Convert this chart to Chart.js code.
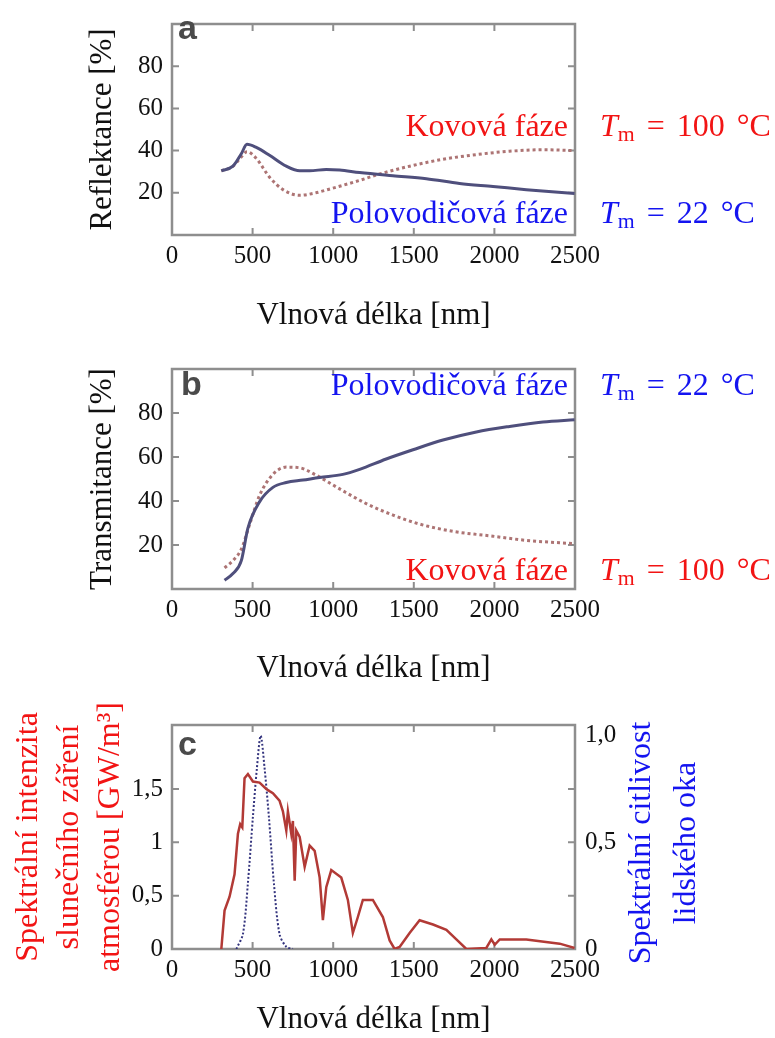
<!DOCTYPE html>
<html lang="cs">
<head>
<meta charset="utf-8">
<title>Reflektance, transmitance a spektrum</title>
<script src="https://cdn.jsdelivr.net/npm/chart.js@4.4.1/dist/chart.umd.min.js"></script>
<style>
  body { margin: 0; background: #fff; }
  #plocha { position: relative; width: 775px; height: 1038px; overflow: hidden; background: #fff; }
  canvas { position: absolute; left: 0; }
  .popis { position: absolute; font-family: "Liberation Serif", serif; font-size: 32px; line-height: 32px; white-space: nowrap; }
  .popis sub { font-size: 0.68em; vertical-align: -0.25em; line-height: 0; }
  .tm { word-spacing: 4px; }
  .cervena { color: #f21414; }
  .modra { color: #1414f0; }
  .pismeno { position: absolute; font-family: "Liberation Sans", Arial, sans-serif; font-weight: bold; font-size: 34px; line-height: 34px; color: #4a4a4a; }
  #osaOko { position: absolute; left: 512px; top: 798px; width: 300px; line-height: 45px; text-align: center;
            font-family: "Liberation Serif", serif; font-size: 32px; color: #1414f0; transform: rotate(-90deg); }
</style>
</head>
<body>
<div id="plocha">
  <canvas id="grafReflektance" width="775" height="345" style="top:0px"></canvas>
  <canvas id="grafTransmitance" width="775" height="355" style="top:345px"></canvas>
  <canvas id="grafSpektrum" width="775" height="338" style="top:700px"></canvas>

  <div class="pismeno" style="left:178px; top:10px">a</div>
  <div class="pismeno" style="left:181px; top:366px">b</div>
  <div class="pismeno" style="left:178px; top:726px">c</div>

  <!-- popisky panelu a -->
  <div class="popis cervena" style="right:207px; top:109px">Kovová fáze</div>
  <div class="popis cervena tm" style="left:600px; top:109px"><i>T</i><sub>m</sub> = 100 °C</div>
  <div class="popis modra" style="right:207px; top:196px">Polovodičová fáze</div>
  <div class="popis modra tm" style="left:600px; top:196px"><i>T</i><sub>m</sub> = 22 °C</div>

  <!-- popisky panelu b -->
  <div class="popis modra" style="right:207px; top:368px">Polovodičová fáze</div>
  <div class="popis modra tm" style="left:600px; top:368px"><i>T</i><sub>m</sub> = 22 °C</div>
  <div class="popis cervena" style="right:207px; top:553px">Kovová fáze</div>
  <div class="popis cervena tm" style="left:600px; top:553px"><i>T</i><sub>m</sub> = 100 °C</div>

  <!-- pravá osa panelu c -->
  <div id="osaOko">Spektrální citlivost<br>lidského oka</div>
</div>

<script>
// ---- Data ----
// Osa x společná pro všechny panely
const vlnoveDelkyTicks = [0, 500, 1000, 1500, 2000, 2500];

// Panel a: reflektance [%]
const reflPolovodicX = [306, 378, 430, 465, 523, 605, 709, 792, 854, 957, 1040, 1164, 1370, 1578, 1784, 1991, 2198, 2497];
const reflPolovodicY = [30.4, 32.6, 38.5, 43, 41.5, 37.8, 32.6, 30.4, 30.4, 31.1, 30.8, 29.6, 28.1, 26.7, 24.4, 23, 21.5, 19.7];
const reflKovX = [306, 378, 430, 465, 523, 605, 688, 792, 874, 998, 1164, 1288, 1474, 1681, 1888, 2094, 2301, 2497];
const reflKovY = [30.4, 32.6, 37, 39.5, 36.3, 27.4, 21.5, 18.8, 19.7, 22.2, 25.9, 28.9, 32.6, 35.9, 38.1, 39.7, 40.4, 40];

// Panel b: transmitance [%]
const tranPolovodicX = [326, 378, 430, 471, 543, 626, 709, 812, 916, 1060, 1164, 1329, 1495, 1681, 1888, 2094, 2301, 2497];
const tranPolovodicY = [4.0, 7.0, 12.9, 27.7, 39.6, 46.2, 48.4, 49.5, 50.7, 52.1, 54.4, 59.1, 63.3, 67.7, 71.4, 73.9, 75.9, 76.9];
const tranKovX = [326, 378, 430, 481, 543, 626, 709, 792, 895, 1040, 1205, 1371, 1536, 1743, 1991, 2198, 2497];
const tranKovY = [9.6, 12.9, 18.1, 29.2, 42.5, 52.1, 55.4, 55.1, 51.7, 45.5, 38.8, 33.6, 29.5, 26.2, 24.0, 22.1, 20.6];
const procentaTicks = [20, 40, 60, 80];

// Panel c: spektrum slunce [GW/m3] a citlivost oka
const slunceX = [306, 326, 357, 388, 409, 423, 436, 450, 471, 502, 543, 585, 605, 626, 667, 688, 709, 719, 740, 750,
                 761, 771, 792, 823, 854, 885, 916, 936, 957, 988, 1050, 1091, 1122, 1153, 1184, 1246, 1308, 1350, 1381, 1412,
                 1474, 1536, 1619, 1702, 1764, 1826, 1950, 1981, 2002, 2033, 2198, 2405, 2497];
const slunceY = [0, 0.36, 0.49, 0.70, 1.08, 1.17, 1.14, 1.60, 1.64, 1.57, 1.56, 1.50, 1.48, 1.46, 1.39, 1.29, 1.11, 1.29, 1.08, 1.20,
                 0.64, 1.11, 1.05, 0.77, 0.97, 0.92, 0.67, 0.27, 0.58, 0.74, 0.67, 0.46, 0.15, 0.30, 0.46, 0.46, 0.30, 0.08, 0, 0.02,
                 0.15, 0.27, 0.23, 0.18, 0.09, 0, 0.01, 0.09, 0.04, 0.09, 0.09, 0.05, 0.01];
const okoX = [399, 440, 471, 502, 527, 550, 574, 601, 632, 667, 709, 750];
const okoY = [0, 0.07, 0.31, 0.62, 0.85, 1.0, 0.85, 0.62, 0.31, 0.07, 0.01, 0];
const slunceTicks = [0, 0.5, 1, 1.5];
const okoTicks = [0, 0.5, 1];

// ---- Vzhled ----
const PISMO = "Liberation Serif";
const barvaPolovodic = "#4f4f7c";
const barvaKov = "#ad7474";
const barvaSlunce = "#b23a36";
const barvaOko = "#34347e";

const body = (xs, ys) => xs.map((x, i) => ({ x, y: ys[i] }));

// Rámeček kolem grafu s dovnitř směřujícími značkami
const ramecek = {
    id: "ramecek",
    beforeDatasetsDraw(chart) {
        const { ctx, chartArea: { left, right, top, bottom } } = chart;
        const osaX = chart.scales.x;
        const osaY = chart.scales.y;
        const d = 7;
        ctx.save();
        ctx.strokeStyle = "#8e8e8e";
        ctx.lineWidth = 2.5;
        ctx.strokeRect(left, top, right - left, bottom - top);
        ctx.lineWidth = 2;
        ctx.beginPath();
        osaX.ticks.forEach(t => {
            if (t.value <= 0 || t.value >= 2500) return;
            const px = osaX.getPixelForValue(t.value);
            ctx.moveTo(px, bottom); ctx.lineTo(px, bottom - d);
            ctx.moveTo(px, top); ctx.lineTo(px, top + d);
        });
        osaY.ticks.forEach(t => {
            if (t.value <= osaY.min) return;
            const py = osaY.getPixelForValue(t.value);
            ctx.moveTo(left, py); ctx.lineTo(left + d, py);
            ctx.moveTo(right, py); ctx.lineTo(right - d, py);
        });
        ctx.stroke();
        ctx.restore();
    }
};

// Společná osa x
function osaVlnoveDelky(vyska, spodek) {
    return {
        type: "linear",
        min: 0,
        max: 2500,
        afterBuildTicks: s => { s.ticks = vlnoveDelkyTicks.map(v => ({ value: v })); },
        afterFit: s => { s.height = vyska; },
        grid: { display: false, drawTicks: false },
        border: { display: false },
        ticks: { color: "#111", font: { family: PISMO, size: 25 }, padding: 6, maxRotation: 0, autoSkip: false, callback: v => String(v) },
        title: { display: true, text: "Vlnová délka [nm]", color: "#111", font: { family: PISMO, size: 31 }, padding: { top: 0, bottom: spodek } }
    };
}

// Osa y v procentech (panely a, b)
function osaProcenta(text) {
    return {
        type: "linear",
        min: 0,
        max: 100,
        afterBuildTicks: s => { s.ticks = procentaTicks.map(v => ({ value: v })); },
        afterFit: s => { s.width = 172; },
        grid: { display: false, drawTicks: false },
        border: { display: false },
        ticks: { color: "#111", font: { family: PISMO, size: 25 }, padding: 9 },
        title: { display: true, text, color: "#111", font: { family: PISMO, size: 31 }, padding: { top: 84, bottom: 0 } }
    };
}

function spolecneVolby(padding) {
    return {
        responsive: false,
        animation: false,
        devicePixelRatio: 1,
        layout: { padding },
        plugins: { legend: { display: false }, tooltip: { enabled: false } },
        elements: { point: { radius: 0 } }
    };
}

document.addEventListener("DOMContentLoaded", () => {
    mostrarReflektance();
    mostrarTransmitance();
    mostrarSpektrum();
});

// Panel a
function mostrarReflektance() {
    new Chart(document.getElementById("grafReflektance"), {
        type: "line",
        data: {
            datasets: [
                { label: "Polovodičová fáze", data: body(reflPolovodicX, reflPolovodicY), borderColor: barvaPolovodic, borderWidth: 3, tension: 0.4, cubicInterpolationMode: "monotone" },
                { label: "Kovová fáze", data: body(reflKovX, reflKovY), borderColor: barvaKov, borderWidth: 3, borderDash: [3, 3], tension: 0.4, cubicInterpolationMode: "monotone" }
            ]
        },
        options: {
            ...spolecneVolby({ top: 10, right: 200, left: 0, bottom: 0 }),
            scales: { x: osaVlnoveDelky(110, 11), y: osaProcenta("Reflektance [%]") }
        },
        plugins: [ramecek]
    });
}

// Panel b
function mostrarTransmitance() {
    new Chart(document.getElementById("grafTransmitance"), {
        type: "line",
        data: {
            datasets: [
                { label: "Polovodičová fáze", data: body(tranPolovodicX, tranPolovodicY), borderColor: barvaPolovodic, borderWidth: 3, tension: 0.4, cubicInterpolationMode: "monotone" },
                { label: "Kovová fáze", data: body(tranKovX, tranKovY), borderColor: barvaKov, borderWidth: 3, borderDash: [3, 3], tension: 0.4, cubicInterpolationMode: "monotone" }
            ]
        },
        options: {
            ...spolecneVolby({ top: 18, right: 200, left: 0, bottom: 0 }),
            scales: { x: osaVlnoveDelky(111, 13), y: osaProcenta("Transmitance [%]") }
        },
        plugins: [ramecek]
    });
}

// Panel c
function mostrarSpektrum() {
    new Chart(document.getElementById("grafSpektrum"), {
        type: "line",
        data: {
            datasets: [
                { label: "Sluneční záření", data: body(slunceX, slunceY), borderColor: barvaSlunce, borderWidth: 2.5, tension: 0, yAxisID: "y" },
                { label: "Citlivost oka", data: body(okoX, okoY), borderColor: barvaOko, borderWidth: 2, borderDash: [2, 2], tension: 0.3, yAxisID: "y2" }
            ]
        },
        options: {
            ...spolecneVolby({ top: 23, right: 0, left: 0, bottom: 0 }),
            scales: {
                x: osaVlnoveDelky(89, 0),
                y: {
                    type: "linear",
                    min: 0,
                    max: 2.1,
                    afterBuildTicks: s => { s.ticks = slunceTicks.map(v => ({ value: v })); },
                    afterFit: s => { s.width = 172; },
                    grid: { display: false, drawTicks: false },
                    border: { display: false },
                    ticks: { color: "#111", font: { family: PISMO, size: 25 }, padding: 9, callback: v => String(v).replace(".", ",") },
                    title: {
                        display: true,
                        text: ["Spektrální intenzita", "slunečního záření", "atmosférou [GW/m³]"],
                        color: "#f21414",
                        font: { family: PISMO, size: 32, lineHeight: 1.28 },
                        padding: { top: 8, bottom: 0 }
                    }
                },
                y2: {
                    type: "linear",
                    position: "right",
                    min: 0,
                    max: 1.05,
                    afterBuildTicks: s => { s.ticks = okoTicks.map(v => ({ value: v })); },
                    afterFit: s => { s.width = 200; },
                    grid: { display: false, drawTicks: false },
                    border: { display: false },
                    ticks: { color: "#111", font: { family: PISMO, size: 25 }, padding: 10, callback: v => v === 0 ? "0" : v.toFixed(1).replace(".", ",") }
                }
            }
        },
        plugins: [ramecek]
    });
}
</script>
</body>
</html>
